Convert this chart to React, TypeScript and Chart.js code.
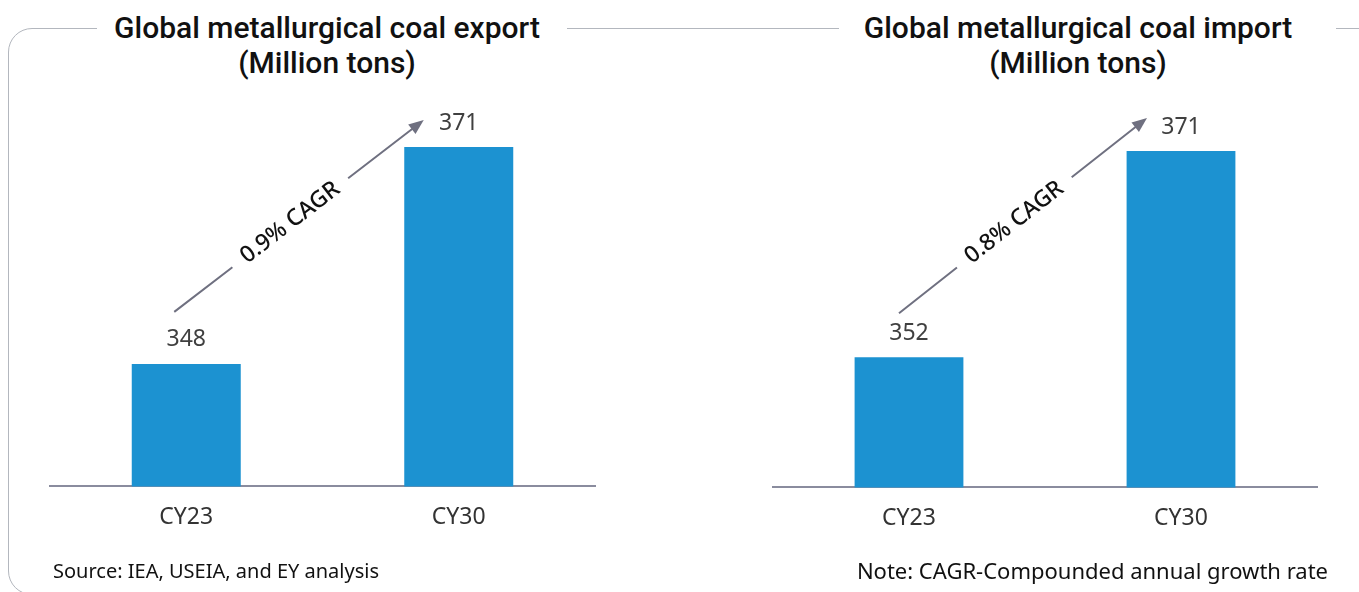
import React, { useEffect, useRef } from 'react';
import { Chart, registerables } from 'chart.js';

Chart.register(...registerables);

// ---------- data ----------
const categories = ['CY23', 'CY30'];
const exportValues = [348, 371];
const importValues = [352, 371];
const exportCagrLabel = '0.9% CAGR';
const importCagrLabel = '0.8% CAGR';
const exportTitle = ['Global metallurgical coal export', '(Million tons)'];
const importTitle = ['Global metallurgical coal import', '(Million tons)'];
const exportAxisRange = [335, 376];
const importAxisRange = [340, 375.7];
const sourceNote = 'Source: IEA, USEIA, and EY analysis';
const cagrNote = 'Note: CAGR-Compounded annual growth rate';

const BAR_COLOR = '#1c92d1';
const AXIS_COLOR = '#8a8c9e';
const ARROW_COLOR = '#6f7080';
const FONT = '"Noto Sans", "DejaVu Sans", sans-serif';
const TITLE_FONT = 'Roboto, "Noto Sans", sans-serif';

const annotatePlugin = {
  id: 'annotate',
  afterDatasetsDraw(chart: any, _args: any, opts: any) {
    const ctx = chart.ctx;
    const meta = chart.getDatasetMeta(0);
    const data = chart.data.datasets[0].data;
    ctx.save();
    // value labels
    ctx.font = `23px ${FONT}`;
    ctx.fillStyle = '#404040';
    ctx.textAlign = 'center';
    ctx.textBaseline = 'middle';
    meta.data.forEach((bar: any, i: number) => {
      ctx.fillText(String(data[i]), bar.x, bar.y - 24);
    });
    // CAGR arrow
    const b0 = meta.data[0];
    const b1 = meta.data[1];
    const x0 = b0.x + opts.start[0];
    const y0 = b0.y + opts.start[1];
    const x1 = b1.x + opts.end[0];
    const y1 = b1.y + opts.end[1];
    const dx = x1 - x0;
    const dy = y1 - y0;
    const len = Math.hypot(dx, dy);
    const ux = dx / len;
    const uy = dy / len;
    const t = 0.465 * len;
    const gap = 73;
    const head = 15;
    ctx.strokeStyle = ARROW_COLOR;
    ctx.fillStyle = ARROW_COLOR;
    ctx.lineWidth = 2;
    ctx.beginPath();
    ctx.moveTo(x0, y0);
    ctx.lineTo(x0 + ux * (t - gap), y0 + uy * (t - gap));
    ctx.moveTo(x0 + ux * (t + gap), y0 + uy * (t + gap));
    ctx.lineTo(x1 - ux * (head - 2), y1 - uy * (head - 2));
    ctx.stroke();
    // arrow head
    const px = -uy;
    const py = ux;
    ctx.beginPath();
    ctx.moveTo(x1, y1);
    ctx.lineTo(x1 - ux * head + px * 6, y1 - uy * head + py * 6);
    ctx.lineTo(x1 - ux * head - px * 6, y1 - uy * head - py * 6);
    ctx.closePath();
    ctx.fill();
    // rotated text
    const cx = x0 + ux * t;
    const cy = y0 + uy * t;
    ctx.translate(cx, cy);
    ctx.rotate(Math.atan2(dy, dx));
    ctx.font = `500 23px ${FONT}`;
    ctx.fillStyle = '#111111';
    ctx.textAlign = 'center';
    ctx.textBaseline = 'middle';
    ctx.fillText(opts.label, 0, 0);
    ctx.restore();
  },
};

type BarProps = {
  values: number[];
  range: number[];
  label: string;
  start: number[];
  end: number[];
  left: number;
  top: number;
  width: number;
  height: number;
};

function BarPanel({ values, range, label, start, end, left, top, width, height }: BarProps) {
  const ref = useRef<HTMLCanvasElement | null>(null);
  useEffect(() => {
    if (!ref.current) return;
    const chart = new Chart(ref.current, {
      type: 'bar',
      data: {
        labels: categories,
        datasets: [
          {
            data: values,
            backgroundColor: BAR_COLOR,
            barPercentage: 0.4,
            categoryPercentage: 1,
          },
        ],
      },
      options: {
        animation: false,
        responsive: false,
        devicePixelRatio: 1,
        layout: { padding: { left: 10, right: 10, top: 20, bottom: 14 } },
        plugins: {
          legend: { display: false },
          tooltip: { enabled: false },
          annotate: { start, end, label },
        } as any,
        scales: {
          x: {
            grid: { display: false, drawTicks: false },
            border: { display: true, color: AXIS_COLOR, width: 2 },
            ticks: {
              color: '#333333',
              font: { family: FONT, size: 23 },
              padding: 17,
            },
          },
          y: {
            display: false,
            min: range[0],
            max: range[1],
          },
        },
      },
      plugins: [annotatePlugin],
    });
    return () => chart.destroy();
  }, []);
  return (
    <canvas
      ref={ref}
      width={width}
      height={height}
      style={{ position: 'absolute', left, top, width, height }}
    />
  );
}

function Title({ lines, center, boxLeft, boxRight }: { lines: string[]; center: number; boxLeft: number; boxRight: number }) {
  return (
    <>
      <div
        style={{
          position: 'absolute',
          left: boxLeft,
          top: 20,
          width: boxRight - boxLeft,
          height: 20,
          background: '#ffffff',
        }}
      />
      <div
        style={{
          position: 'absolute',
          left: center - 300,
          width: 600,
          top: 10,
          textAlign: 'center',
          fontFamily: TITLE_FONT,
          fontWeight: 500,
          fontSize: 30,
          lineHeight: '35px',
          color: '#111111',
        }}
      >
        {lines.map((l, i) => (
          <div key={i}>{l}</div>
        ))}
      </div>
    </>
  );
}

export default function App() {
  return (
    <div
      style={{
        position: 'absolute',
        left: 0,
        top: 0,
        width: 1359,
        height: 592,
        overflow: 'hidden',
        background: '#ffffff',
      }}
    >
      <div
        style={{
          position: 'absolute',
          left: 8,
          top: 28,
          width: 1380,
          height: 567,
          border: '1.5px solid #b3b7be',
          borderRadius: 24,
          boxSizing: 'border-box',
        }}
      />
      <Title lines={exportTitle} center={327} boxLeft={97} boxRight={567} />
      <Title lines={importTitle} center={1078} boxLeft={839} boxRight={1336} />
      <BarPanel
        values={exportValues}
        range={exportAxisRange}
        label={exportCagrLabel}
        start={[-12, -52]}
        end={[-35, -27]}
        left={40}
        top={80}
        width={565}
        height={482}
      />
      <BarPanel
        values={importValues}
        range={importAxisRange}
        label={importCagrLabel}
        start={[-10, -44]}
        end={[-34, -33]}
        left={763}
        top={80}
        width={564}
        height={483}
      />
      <div
        style={{
          position: 'absolute',
          left: 53,
          top: 558,
          fontFamily: FONT,
          fontSize: 20,
          lineHeight: '26px',
          color: '#111111',
          whiteSpace: 'nowrap',
        }}
      >
        {sourceNote}
      </div>
      <div
        style={{
          position: 'absolute',
          right: 1359 - 1328,
          top: 556,
          fontFamily: FONT,
          fontSize: 22,
          lineHeight: '28px',
          color: '#111111',
          whiteSpace: 'nowrap',
        }}
      >
        {cagrNote}
      </div>
    </div>
  );
}
